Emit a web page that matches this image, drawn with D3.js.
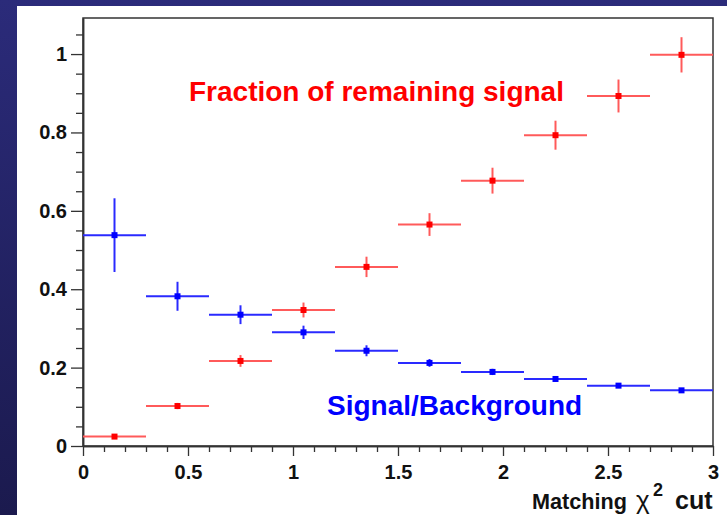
<!DOCTYPE html>
<html>
<head>
<meta charset="utf-8">
<script src="https://cdn.jsdelivr.net/npm/d3@7"></script>
<style>
  html, body { margin: 0; padding: 0; }
  body { width: 727px; height: 515px; overflow: hidden; }
  svg { display: block; }
  text { font-family: "Liberation Sans", Arial, Helvetica, sans-serif; font-weight: bold; }
</style>
</head>
<body>
<svg id="chart" width="727" height="515"></svg>
<script>
// ---- data ----
const binLow  = [0.0, 0.3, 0.6, 0.9, 1.2, 1.5, 1.8, 2.1, 2.4, 2.7];
const binHigh = [0.3, 0.6, 0.9, 1.2, 1.5, 1.8, 2.1, 2.4, 2.7, 3.0];
const binCenter = [0.15, 0.45, 0.75, 1.05, 1.35, 1.65, 1.95, 2.25, 2.55, 2.85];

const signalFraction    = [0.024, 0.102, 0.217, 0.347, 0.457, 0.565, 0.677, 0.793, 0.893, 0.998];
const signalFractionErr = [0.004, 0.008, 0.015, 0.019, 0.026, 0.029, 0.033, 0.037, 0.042, 0.045];

const sigOverBkg    = [0.538, 0.382, 0.335, 0.290, 0.243, 0.212, 0.189, 0.171, 0.154, 0.142];
const sigOverBkgErr = [0.094, 0.037, 0.024, 0.017, 0.014, 0.010, 0.008, 0.006, 0.005, 0.004];

const xTickValues = [0, 0.5, 1, 1.5, 2, 2.5, 3];
const xTickLabels = ["0", "0.5", "1", "1.5", "2", "2.5", "3"];
const yTickValues = [0, 0.2, 0.4, 0.6, 0.8, 1];
const yTickLabels = ["0", "0.2", "0.4", "0.6", "0.8", "1"];
const xMinorTicks = [0.1,0.2,0.3,0.4,0.6,0.7,0.8,0.9,1.1,1.2,1.3,1.4,1.6,1.7,1.8,1.9,2.1,2.2,2.3,2.4,2.6,2.7,2.8,2.9];
const yMinorTicks = [0.05,0.1,0.15,0.25,0.3,0.35,0.45,0.5,0.55,0.65,0.7,0.75,0.85,0.9,0.95,1.05];

const xDomain = [0, 3];
const yDomain = [0, 1.092];

// ---- layout ----
const W = 727, H = 515;
const plot = { left: 83, top: 18, right: 713, bottom: 446 };

const svg = d3.select("#chart");

// background gradient
const defs = svg.append("defs");
const grad = defs.append("linearGradient").attr("id", "bg").attr("x1", 0).attr("y1", 0).attr("x2", 0).attr("y2", 1);
grad.append("stop").attr("offset", "0%").attr("stop-color", "#2b2b7a");
grad.append("stop").attr("offset", "100%").attr("stop-color", "#1b1a4e");
svg.append("rect").attr("x", 0).attr("y", 0).attr("width", W).attr("height", H).attr("fill", "url(#bg)");
svg.append("rect").attr("x", 17).attr("y", 6).attr("width", W - 17).attr("height", H - 6).attr("fill", "#ffffff");

const x = d3.scaleLinear().domain(xDomain).range([plot.left, plot.right]);
const y = d3.scaleLinear().domain(yDomain).range([plot.bottom, plot.top]);

// frame
svg.append("rect")
  .attr("x", plot.left).attr("y", plot.top)
  .attr("width", plot.right - plot.left).attr("height", plot.bottom - plot.top)
  .attr("fill", "none").attr("stroke", "#333").attr("stroke-width", 1.5);

// axes
const axisColor = "#333";
function styleAxis(g) {
  g.selectAll("path.domain").attr("stroke", axisColor).attr("stroke-width", 1.5);
  g.selectAll(".tick line").attr("stroke", axisColor).attr("stroke-width", 1.3);
  g.selectAll("text").attr("fill", "#111").style("font-size", "20px").style("font-weight", "bold")
    .style("font-family", '"Liberation Sans", Arial, sans-serif');
}

const xAxis = d3.axisBottom(x).tickValues(xTickValues).tickSize(10).tickSizeOuter(0).tickPadding(9)
  .tickFormat((d, i) => xTickLabels[i]);
const gx = svg.append("g").attr("transform", `translate(0,${plot.bottom})`).call(xAxis);
styleAxis(gx);

const xMinor = d3.axisBottom(x).tickValues(xMinorTicks).tickSize(6).tickSizeOuter(0).tickFormat("");
const gxm = svg.append("g").attr("transform", `translate(0,${plot.bottom})`).call(xMinor);
styleAxis(gxm);

const yAxis = d3.axisLeft(y).tickValues(yTickValues).tickSize(12).tickSizeOuter(0).tickPadding(4)
  .tickFormat((d, i) => yTickLabels[i]);
const gy = svg.append("g").attr("transform", `translate(${plot.left},0)`).call(yAxis);
styleAxis(gy);

const yMinor = d3.axisLeft(y).tickValues(yMinorTicks).tickSize(7).tickSizeOuter(0).tickFormat("");
const gym = svg.append("g").attr("transform", `translate(${plot.left},0)`).call(yMinor);
styleAxis(gym);

// data series
function drawSeries(vals, errs, lineColor, markColor) {
  const g = svg.append("g");
  const rows = vals.map((v, i) => ({ v, e: errs[i], lo: binLow[i], hi: binHigh[i], c: binCenter[i] }));
  g.selectAll("line.h").data(rows).join("line")
    .attr("x1", d => x(d.lo)).attr("x2", d => x(d.hi))
    .attr("y1", d => y(d.v)).attr("y2", d => y(d.v))
    .attr("stroke", lineColor).attr("stroke-width", 2);
  g.selectAll("line.v").data(rows).join("line")
    .attr("x1", d => x(d.c)).attr("x2", d => x(d.c))
    .attr("y1", d => y(d.v - d.e)).attr("y2", d => y(d.v + d.e))
    .attr("stroke", lineColor).attr("stroke-width", 2);
  g.selectAll("rect").data(rows).join("rect")
    .attr("x", d => x(d.c) - 3).attr("y", d => y(d.v) - 3)
    .attr("width", 6).attr("height", 6)
    .attr("fill", markColor);
}
drawSeries(signalFraction, signalFractionErr, "#ff5a5a", "#ff0000");
drawSeries(sigOverBkg, sigOverBkgErr, "#2a2aff", "#0000ff");

// annotations
svg.append("text").attr("x", 189).attr("y", 101).attr("fill", "#ff0000")
  .style("font-size", "28px").text("Fraction of remaining signal");
svg.append("text").attr("x", 327).attr("y", 415).attr("fill", "#0000ff")
  .style("font-size", "28px").text("Signal/Background");

// x axis title (single text element, parts placed with tspans)
const xt = svg.append("text").attr("y", 509).attr("fill", "#111").style("font-size", "22px");
xt.append("tspan").attr("x", 532).attr("textLength", 95).attr("lengthAdjust", "spacingAndGlyphs").text("Matching");
xt.append("tspan").attr("x", 636).style("font-size", "26px").style("font-weight", "normal").text("χ");
xt.append("tspan").attr("x", 653).attr("y", 496).style("font-size", "18px").text("2");
xt.append("tspan").attr("x", 675).attr("y", 509).style("font-size", "25px").text("cut");
</script>
</body>
</html>
